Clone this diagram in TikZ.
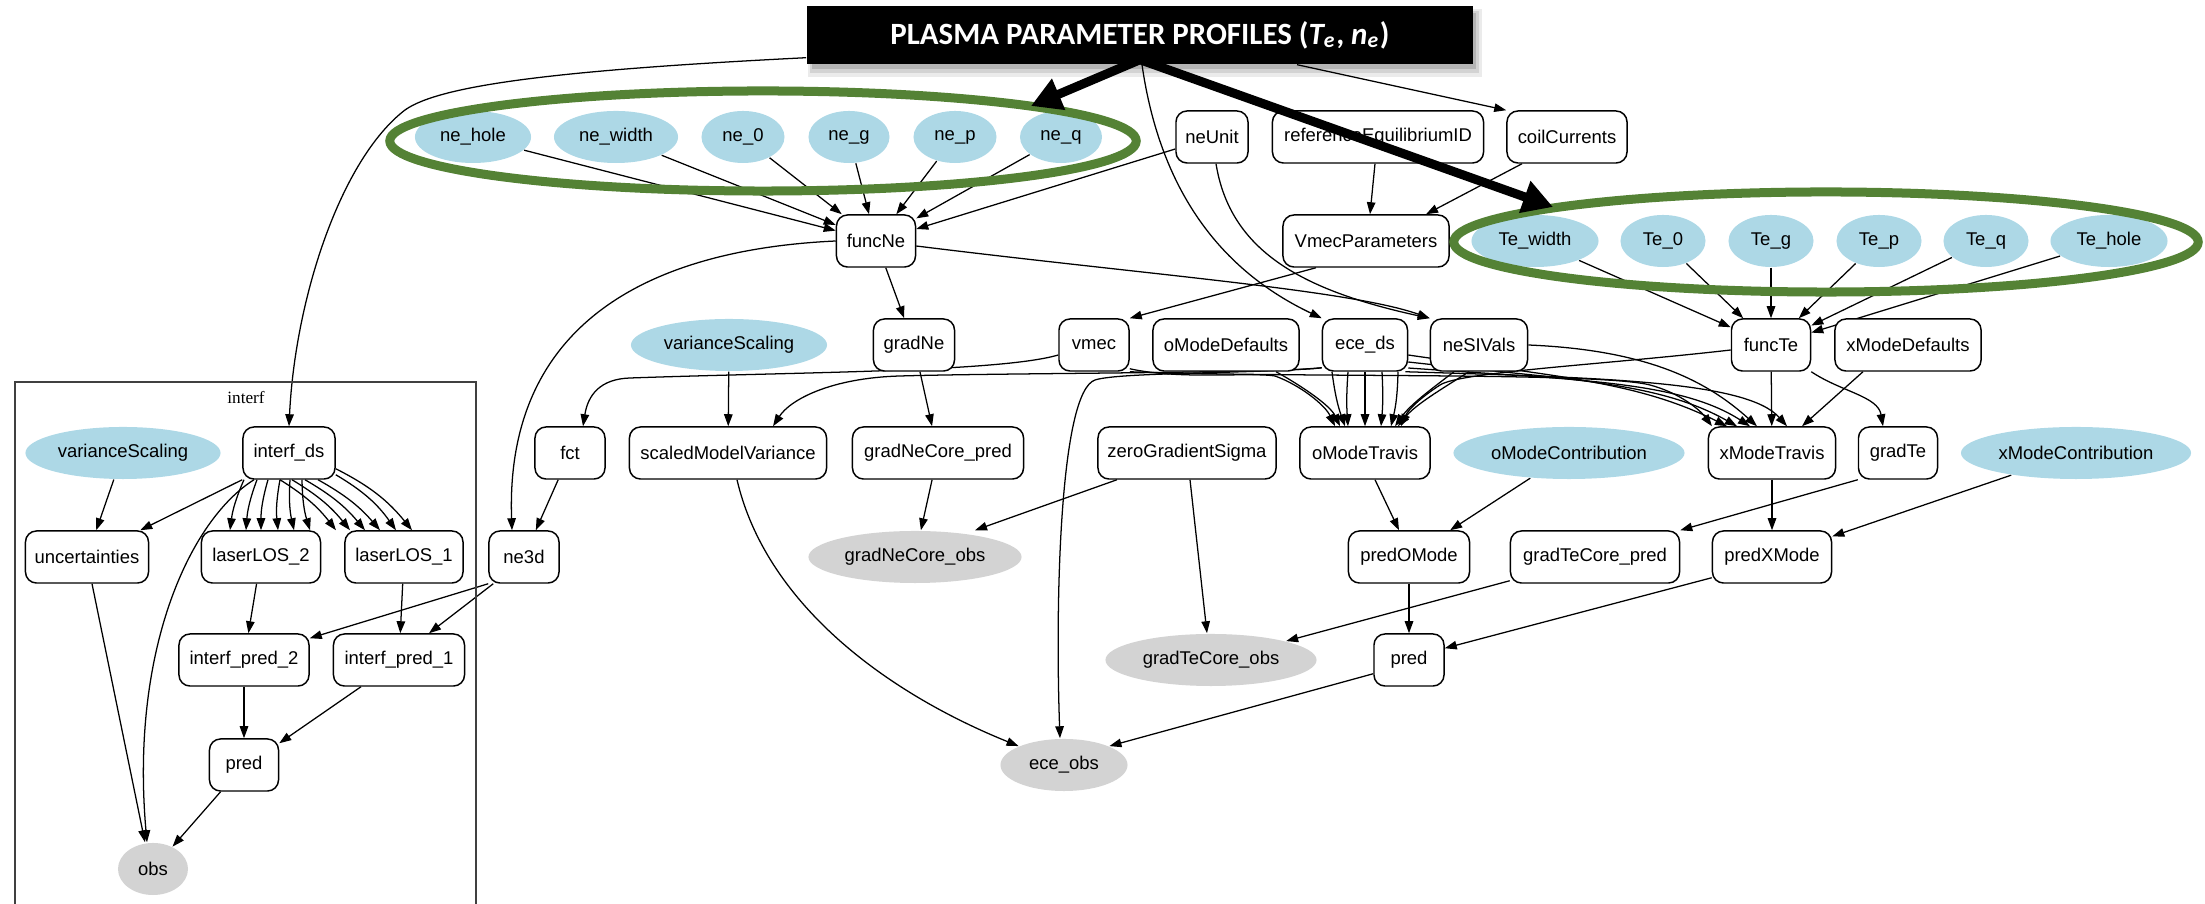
\documentclass[tikz,border=0pt]{standalone}
\usepackage{fontspec}
\usetikzlibrary{shapes.geometric,arrows.meta}
\newfontfamily\gvsans{Liberation Sans}
\newfontfamily\gvserif{Liberation Serif}
\newfontfamily\bannerfont{Carlito}
\definecolor{gvblue}{HTML}{ADD8E6}
\definecolor{gvgray}{HTML}{D3D3D3}
\definecolor{ringgreen}{RGB}{84,130,53}
\pgfdeclarelayer{edges}
\pgfsetlayers{edges,main}

\begin{document}
\begin{tikzpicture}[x=0.01cm,y=-0.01cm,
  gvtext/.style={font=\gvsans\fontsize{5.25}{6.3}\selectfont},
  gvbox/.style={gvtext,draw,line width=0.42pt,rounded corners=0.11cm,fill=white,minimum height=0.52cm,inner sep=0pt},
  gvpar/.style={gvtext,ellipse,fill=gvblue,minimum height=0.52cm,inner sep=0pt},
  gvobs/.style={gvtext,ellipse,fill=gvgray,minimum height=0.52cm,inner sep=0pt},
  gvarrow/.style={line width=0.36pt,-{Triangle[length=0.12cm,width=0.085cm]}},
  ring/.style={draw=ringgreen,line width=0.09cm,ellipse,inner sep=0pt,minimum height=1.0cm},
  bigarrow/.style={line width=0.09cm,-{Triangle[length=0.3cm,width=0.32cm]}},
  bannerbox/.style={fill=black,minimum width=6.66cm,minimum height=0.58cm,inner sep=0pt,text=white,
      font=\bannerfont\bfseries\fontsize{8.8}{10}\selectfont},
]
\useasboundingbox (0,0) rectangle (2205,904);

% ---- interf cluster frame
\draw[line width=0.6pt,black!75] (15,910) -- (15,382) -- (476,382) -- (476,910);
\node[font=\gvserif\fontsize{4.9}{6}\selectfont] (interfLabel) at (246,398) {interf};

% ---- row 1
\node[gvpar,minimum width=1.16cm] (neHole) at (473,137) {ne\_hole};
\node[gvpar,minimum width=1.24cm] (neWidth) at (616,137) {ne\_width};
\node[gvpar,minimum width=0.83cm] (neZero) at (743,137) {ne\_0};
\node[gvpar,minimum width=0.81cm] (neG) at (849,137) {ne\_g};
\node[gvpar,minimum width=0.83cm] (neP) at (955,137) {ne\_p};
\node[gvpar,minimum width=0.82cm] (neQ) at (1061,137) {ne\_q};
\node[gvbox,minimum width=0.72cm] (neUnit) at (1212,137) {neUnit};
\node[gvbox,minimum width=2.11cm] (refEq) at (1378,137) {referenceEquilibriumID};
\node[gvbox,minimum width=1.20cm] (coil) at (1567,137) {coilCurrents};

% ---- row 2
\node[gvbox,minimum width=0.79cm] (funcNe) at (876,241) {funcNe};
\node[gvbox,minimum width=1.66cm] (vmecPar) at (1366,241) {VmecParameters};
\node[gvpar,minimum width=1.27cm] (teWidth) at (1535,241) {Te\_width};
\node[gvpar,minimum width=0.85cm] (teZero) at (1663,241) {Te\_0};
\node[gvpar,minimum width=0.85cm] (teG) at (1771,241) {Te\_g};
\node[gvpar,minimum width=0.85cm] (teP) at (1879,241) {Te\_p};
\node[gvpar,minimum width=0.85cm] (teQ) at (1986,241) {Te\_q};
\node[gvpar,minimum width=1.17cm] (teHole) at (2109,241) {Te\_hole};

% ---- row 3
\node[gvpar,minimum width=1.96cm] (varTop) at (729,345) {varianceScaling};
\node[gvbox,minimum width=0.81cm] (gradNe) at (914,345) {gradNe};
\node[gvbox,minimum width=0.70cm] (vmec) at (1094,345) {vmec};
\node[gvbox,minimum width=1.46cm] (oModeDef) at (1226,345) {oModeDefaults};
\node[gvbox,minimum width=0.85cm] (eceDs) at (1365,345) {ece\_ds};
\node[gvbox,minimum width=0.97cm] (neSI) at (1479,345) {neSIVals};
\node[gvbox,minimum width=0.79cm] (funcTe) at (1771,345) {funcTe};
\node[gvbox,minimum width=1.46cm] (xModeDef) at (1908,345) {xModeDefaults};

% ---- row 4
\node[gvpar,minimum width=1.95cm] (varLeft) at (123,453) {varianceScaling};
\node[gvbox,minimum width=0.92cm] (interfDs) at (289,453) {interf\_ds};
\node[gvbox,minimum width=0.70cm] (fct) at (570,453) {fct};
\node[gvbox,minimum width=1.97cm] (scaledMV) at (728,453) {scaledModelVariance};
\node[gvbox,minimum width=1.71cm] (gradNeCorePred) at (938,453) {gradNeCore\_pred};
\node[gvbox,minimum width=1.78cm] (zeroGS) at (1187,453) {zeroGradientSigma};
\node[gvbox,minimum width=1.30cm] (oModeTravis) at (1365,453) {oModeTravis};
\node[gvpar,minimum width=2.31cm] (oModeContrib) at (1569,453) {oModeContribution};
\node[gvbox,minimum width=1.27cm] (xModeTravis) at (1772,453) {xModeTravis};
\node[gvbox,minimum width=0.79cm] (gradTe) at (1898,453) {gradTe};
\node[gvpar,minimum width=2.30cm] (xModeContrib) at (2076,453) {xModeContribution};

% ---- row 5
\node[gvbox,minimum width=1.23cm] (uncert) at (87,557) {uncertainties};
\node[gvbox,minimum width=1.19cm] (laserB) at (261,557) {laserLOS\_2};
\node[gvbox,minimum width=1.18cm] (laserA) at (404,557) {laserLOS\_1};
\node[gvbox,minimum width=0.70cm] (neThree) at (524,557) {ne3d};
\node[gvobs,minimum width=2.13cm] (gradNeCoreObs) at (915,557) {gradNeCore\_obs};
\node[gvbox,minimum width=1.21cm] (predOMode) at (1409,557) {predOMode};
\node[gvbox,minimum width=1.69cm] (gradTeCorePred) at (1595,557) {gradTeCore\_pred};
\node[gvbox,minimum width=1.19cm] (predXMode) at (1772,557) {predXMode};

% ---- row 6
\node[gvbox,minimum width=1.30cm] (ipredB) at (244,660) {interf\_pred\_2};
\node[gvbox,minimum width=1.31cm] (ipredA) at (399,660) {interf\_pred\_1};
\node[gvobs,minimum width=2.11cm] (gradTeCoreObs) at (1211,660) {gradTeCore\_obs};
\node[gvbox,minimum width=0.70cm] (predEce) at (1409,660) {pred};

% ---- rows 7 and 8
\node[gvbox,minimum width=0.69cm] (predInterf) at (244,765) {pred};
\node[gvobs,minimum width=1.27cm] (eceObs) at (1064,765) {ece\_obs};
\node[gvobs,minimum width=0.70cm] (obs) at (153,869) {obs};

% ---- banner shadow; the profile source sits behind the banner
\fill[black,opacity=0.08] (808,9) rectangle (1482,77);
\fill[black,opacity=0.10] (810,11) rectangle (1479,73);
\fill[black,opacity=0.14] (812,13) rectangle (1476,69);
\node[bannerbox] (banner) at (1140,35) {};
\coordinate (srcA) at ([yshift=0.07cm]banner.south west);
\coordinate (srcB) at ([xshift=0.02cm]banner.south);
\coordinate (srcC) at ([xshift=1.57cm]banner.south);

\begin{pgfonlayer}{edges}
% profile source
\draw[gvarrow] (srcA) .. controls (560,70) and (440,85) .. (405,110) .. controls (340,160) and (295,300) .. (interfDs.north);
\draw[gvarrow] (srcB) .. controls (1160,190) and (1220,270) .. (eceDs.north west);
\draw[gvarrow] (srcC) -- (coil.north west);

% density profile
\foreach \n in {neHole,neWidth,neZero,neG,neP,neQ} \draw[gvarrow] (\n) -- (funcNe);
\draw[gvarrow] ([yshift=-0.12cm]neUnit.west) -- ([yshift=0.12cm]funcNe.east);
\draw[gvarrow] ([xshift=0.04cm]neUnit.south) .. controls (1230,250) and (1300,290) .. (neSI.north west);
\draw[gvarrow] ([yshift=-0.05cm]funcNe.east) .. controls (1150,275) and (1350,290) .. (neSI.north west);
\draw[gvarrow] (funcNe) -- (gradNe);
\draw[gvarrow] (funcNe.west) .. controls (640,250) and (505,330) .. ([xshift=-0.12cm]neThree.north);

% equilibrium
\draw[gvarrow] ([xshift=-0.03cm]refEq.south) -- ([xshift=0.04cm]vmecPar.north);
\draw[gvarrow] ([xshift=-0.45cm]coil.south) -- ([xshift=0.6cm]vmecPar.north);
\draw[gvarrow] ([xshift=-0.5cm]vmecPar.south) -- (vmec.north east);

% temperature profile
\foreach \n in {teWidth,teZero,teG,teP,teQ,teHole} \draw[gvarrow] (\n) -- (funcTe);

% row 3 to row 4
\draw[gvarrow] (varTop) -- (scaledMV);
\draw[gvarrow] (gradNe) -- (gradNeCorePred);
\draw[gvarrow] ([yshift=-0.1cm]vmec.west) .. controls (1000,372) and (800,372) .. (630,378) .. controls (600,379) and (588,395) .. ([xshift=0.13cm]fct.north);
\draw[gvarrow] ([yshift=0.04cm]eceDs.south west) .. controls (1290,373) and (1000,373) .. (900,376) .. controls (830,378) and (790,400) .. ([xshift=0.45cm]scaledMV.north);
\draw[gvarrow] ([yshift=0.04cm]eceDs.south west) .. controls (1250,374) and (1120,372) .. (1095,380) .. controls (1060,392) and (1055,600) .. ([xshift=-0.04cm]eceObs.north);
\draw[gvarrow] ([yshift=0.03cm]vmec.south east) .. controls (1180,380) and (1250,372) .. (1275,376) .. controls (1300,385) and (1325,405) .. ([xshift=-0.3cm]oModeTravis.north);
\draw[gvarrow] ([xshift=0.5cm]oModeDef.south) .. controls (1300,385) and (1330,405) .. ([xshift=-0.25cm]oModeTravis.north);
\draw[gvarrow] ([xshift=-0.33cm]eceDs.south) to[bend right=6] ([xshift=-0.2cm]oModeTravis.north);
\draw[gvarrow] ([xshift=-0.17cm]eceDs.south) to[bend right=4] ([xshift=-0.17cm]oModeTravis.north);
\draw[gvarrow] (eceDs.south) -- (oModeTravis.north);
\draw[gvarrow] ([xshift=0.17cm]eceDs.south) to[bend left=4] ([xshift=0.16cm]oModeTravis.north);
\draw[gvarrow] ([xshift=0.33cm]eceDs.south) to[bend left=6] ([xshift=0.26cm]oModeTravis.north);
\draw[gvarrow] ([xshift=-0.25cm]neSI.south) .. controls (1430,390) and (1410,405) .. ([xshift=0.3cm]oModeTravis.north);
\draw[gvarrow] ([xshift=-0.1cm]neSI.south) .. controls (1440,390) and (1415,405) .. ([xshift=0.33cm]oModeTravis.north);
\draw[gvarrow] ([yshift=-0.05cm]funcTe.west) .. controls (1600,365) and (1460,372) .. (1440,385) .. controls (1420,398) and (1408,410) .. ([xshift=0.36cm]oModeTravis.north);
\draw[gvarrow] (vmec.south east) .. controls (1300,378) and (1600,372) .. (1650,385) .. controls (1680,393) and (1700,410) .. ([xshift=-0.6cm]xModeTravis.north);
\draw[gvarrow] ([yshift=-0.1cm]eceDs.east) .. controls +(150,22) and +(-90,-45) .. ([xshift=-0.45cm]xModeTravis.north);
\draw[gvarrow] ([yshift=-0.17cm]eceDs.east) .. controls +(160,18) and +(-80,-45) .. ([xshift=-0.35cm]xModeTravis.north);
\draw[gvarrow] ([yshift=-0.23cm]eceDs.east) .. controls +(170,12) and +(-70,-45) .. ([xshift=-0.22cm]xModeTravis.north);
\draw[gvarrow] ([xshift=-0.03cm]eceDs.south east) .. controls +(200,6) and +(-40,-45) .. ([xshift=0.15cm]xModeTravis.north);
\draw[gvarrow] (neSI.east) .. controls +(120,5) and +(-50,-45) .. ([xshift=-0.15cm]xModeTravis.north);
\draw[gvarrow] (funcTe) -- (xModeTravis);
\draw[gvarrow] ([xshift=-0.45cm]xModeDef.south) -- ([xshift=0.3cm]xModeTravis.north);
\draw[gvarrow] (funcTe.south east) .. controls +(30,20) and +(-5,-30) .. ([xshift=-0.15cm]gradTe.north);

% interferometry
\draw[gvarrow] (fct) -- (neThree);
\draw[gvarrow] (varLeft) -- (uncert);
\draw[gvarrow] (interfDs.south west) -- ([xshift=-0.09cm]uncert.north east);
\draw[gvarrow] ([xshift=-0.35cm]interfDs.south) .. controls (190,520) and (130,650) .. ([xshift=-0.06cm]obs.north);
\foreach \a/\b in {-0.45/-0.31,-0.32/-0.15,-0.21/0,-0.09/0.17,0.01/0.33,0.13/0.49}
  \draw[gvarrow] ([xshift=\a cm]interfDs.south) to[bend right=8] ([xshift=\b cm]laserB.north);
\foreach \a/\b in {-0.09/-0.68,0.03/-0.54,0.16/-0.39,0.29/-0.24}
  \draw[gvarrow] ([xshift=\a cm]interfDs.south) to[bend left=10] ([xshift=\b cm]laserA.north);
\draw[gvarrow] ([yshift=0.05cm]interfDs.south east) to[bend left=12] ([xshift=-0.08cm]laserA.north);
\draw[gvarrow] ([yshift=0.11cm]interfDs.south east) to[bend left=12] ([xshift=0.08cm]laserA.north);
\draw[gvarrow] (laserB) -- (ipredB);
\draw[gvarrow] (laserA) -- (ipredA);
\draw[gvarrow] (neThree.south west) -- ([yshift=-0.05cm]ipredB.north east);
\draw[gvarrow] ([xshift=0.05cm]neThree.south west) -- ([xshift=0.3cm]ipredA.north);
\draw[gvarrow] (ipredB) -- (predInterf);
\draw[gvarrow] ([xshift=-0.38cm]ipredA.south) -- ([yshift=-0.05cm]predInterf.north east);
\draw[gvarrow] (predInterf) -- (obs);
\draw[gvarrow] ([xshift=0.05cm]uncert.south) -- ([xshift=-0.08cm]obs.north);

% ece and gradient constraints
\draw[gvarrow] ([xshift=0.09cm]scaledMV.south) .. controls (765,600) and (880,690) .. (eceObs.north west);
\draw[gvarrow] (gradNeCorePred) -- (gradNeCoreObs);
\draw[gvarrow] ([xshift=-0.7cm]zeroGS.south) -- ([xshift=0.6cm]gradNeCoreObs.north);
\draw[gvarrow] ([xshift=0.03cm]zeroGS.south) -- ([xshift=-0.04cm]gradTeCoreObs.north);
\draw[gvarrow] ([xshift=0.1cm]oModeTravis.south) -- ([xshift=-0.1cm]predOMode.north);
\draw[gvarrow] (oModeContrib) -- (predOMode);
\draw[gvarrow] (xModeTravis) -- (predXMode);
\draw[gvarrow] (xModeContrib) -- (predXMode);
\draw[gvarrow] (gradTe.south west) -- (gradTeCorePred.north east);
\draw[gvarrow] ([yshift=0.03cm]gradTeCorePred.south west) -- (gradTeCoreObs.north east);
\draw[gvarrow] (predOMode) -- (predEce);
\draw[gvarrow] ([yshift=0.06cm]predXMode.south west) -- ([yshift=-0.15cm]predEce.north east);
\draw[gvarrow] ([yshift=0.13cm]predEce.south west) -- (eceObs.north east);
\end{pgfonlayer}

% ---- highlight rings and pointers
\node[ring,minimum width=7.46cm] (neRing) at (763,141) {};
\node[ring,minimum width=7.44cm] (teRing) at (1826,242) {};
\coordinate (neTip) at (1031,106);
\coordinate (teTip) at (1553,207);
\draw[bigarrow] ([yshift=0.05cm]banner.south) -- (neTip);
\draw[bigarrow] ([yshift=0.05cm]banner.south) -- (teTip);
\node[bannerbox] (bannerTop) at (1140,35)
      {PLASMA PARAMETER PROFILES ({\itshape T}\textsubscript{\itshape e}, {\itshape n}\textsubscript{\itshape e})};
\end{tikzpicture}
\end{document}
